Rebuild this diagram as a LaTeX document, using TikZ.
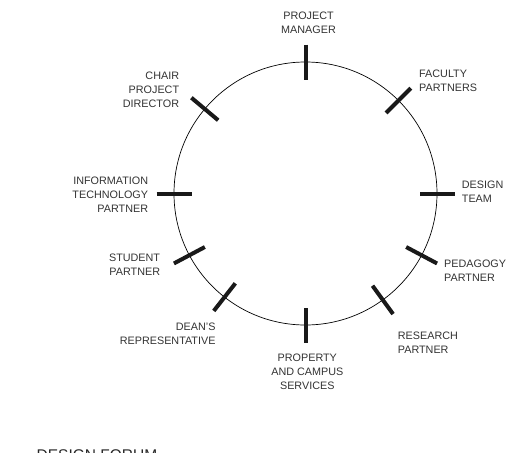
\documentclass[tikz,border=0pt]{standalone}
\usepackage{fontspec}
\setmainfont{Liberation Sans}
\usetikzlibrary{calc}
\begin{document}
\begin{tikzpicture}[x=1pt,y=1pt,
  lbl/.style={inner sep=0pt, font=\fontsize{10.8}{13.9}\selectfont, text=black!80},
  tick/.style={line width=4pt, draw=black!90, line cap=butt},
  ring/.style={draw=black, line width=0.7pt}]
\useasboundingbox (0,0) rectangle (512,-453);
\coordinate (c) at (305.5,-193.5);
\draw[ring] (c) circle (131.5);
\foreach \n/\a in {pm/90, fp/45, dt/0, pp/-28, rp/-54, pc/-90, dr/-128, sp/-152, it/180, cd/140}{
  \coordinate (\n o) at ($(c)+(\a:149)$);
  \coordinate (\n i) at ($(c)+(\a:114)$);
  \draw[tick] (\n o) -- (\n i);
}
\node[lbl, align=center] (pmt) at (308.5,-22.7) {PROJECT\\MANAGER};
\node[lbl, align=right, anchor=east] (cdt) at (179.3,-90) {CHAIR\\PROJECT\\DIRECTOR};
\node[lbl, align=left, anchor=west] (fpt) at (419,-80.7) {FACULTY\\PARTNERS};
\node[lbl, align=right, anchor=east] (itt) at (148.3,-195) {INFORMATION\\TECHNOLOGY\\PARTNER};
\node[lbl, align=left, anchor=west] (dtt) at (461.7,-192) {DESIGN\\TEAM};
\node[lbl, align=right, anchor=east] (spt) at (160.3,-264.8) {STUDENT\\PARTNER};
\node[lbl, align=left, anchor=west] (ppt) at (444,-270.8) {PEDAGOGY\\PARTNER};
\node[lbl, align=right, anchor=east] (drt) at (215.7,-333.7) {DEAN'S\\REPRESENTATIVE};
\node[lbl, align=left, anchor=west] (rpt) at (397.7,-342.7) {RESEARCH\\PARTNER};
\node[lbl, align=center] (pct) at (307.3,-371.5) {PROPERTY\\AND CAMPUS\\SERVICES};
\node[inner sep=0pt, anchor=base west, font=\fontsize{15.5}{18}\selectfont, text=black!85] (df) at (36.5,-460.8) {DESIGN FORUM};
\end{tikzpicture}
\end{document}
